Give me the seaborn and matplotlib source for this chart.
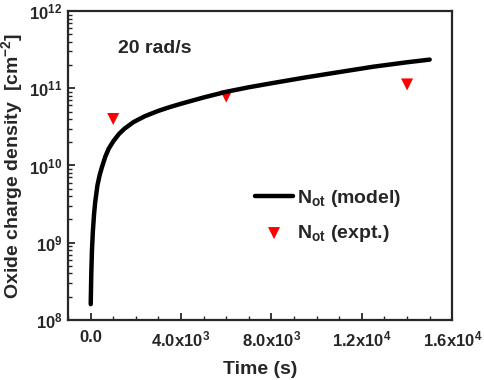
import numpy as np
import pandas as pd
import seaborn as sns
import matplotlib
matplotlib.use("Agg")
import matplotlib.pyplot as plt
from matplotlib.ticker import FixedLocator, FixedFormatter, MultipleLocator, LogLocator

# model curve
t_model = [5, 30, 60, 100, 150, 200, 300, 400, 500, 650, 800, 1000, 1250, 1500,
           1900, 2400, 3000, 3500, 4000, 5000, 6000, 7000, 8000, 9500, 11000,
           12500, 14000, 15000]
n_model = [1.6e8, 4e8, 8e8, 1.4e9, 2.3e9, 3.3e9, 5.5e9, 7.5e9, 9.5e9, 1.3e10,
           1.65e10, 2.05e10, 2.55e10, 3.0e10, 3.65e10, 4.35e10, 5.1e10, 5.7e10,
           6.3e10, 7.6e10, 9e10, 1.03e11, 1.16e11, 1.38e11, 1.62e11, 1.9e11,
           2.17e11, 2.35e11]

# experimental points
t_expt = [1000, 6000, 14000]
n_expt = [4e10, 7.8e10, 1.12e11]

x_ticks = [0, 4000, 8000, 12000, 16000]
x_labels = ["0.0", "4.0x10$^{3}$", "8.0x10$^{3}$", "1.2x10$^{4}$", "1.6x10$^{4}$"]
y_ticks = [1e8, 1e9, 1e10, 1e11, 1e12]
y_labels = ["10$^{8}$", "10$^{9}$", "10$^{10}$", "10$^{11}$", "10$^{12}$"]

sns.set_style("ticks")
plt.rcParams["font.family"] = ["Liberation Sans", "DejaVu Sans"]
plt.rcParams["font.weight"] = "bold"
plt.rcParams["mathtext.fontset"] = "custom"
plt.rcParams["mathtext.rm"] = "Liberation Sans:bold"
plt.rcParams["mathtext.bf"] = "Liberation Sans:bold"
plt.rcParams["mathtext.it"] = "Liberation Sans:bold"
plt.rcParams["mathtext.default"] = "rm"

model = pd.DataFrame({"t": t_model, "n": n_model})
expt = pd.DataFrame({"t": t_expt, "n": n_expt})

fig = plt.figure(figsize=(4.84, 3.80), dpi=100)
ax = fig.add_axes([0.1405, 0.158, 0.794, 0.813])

sns.lineplot(data=model, x="t", y="n", ax=ax, color="black", linewidth=3.2,
             label="N$_{ot}$ (model)")
sns.scatterplot(data=expt, x="t", y="n", ax=ax, color="red", marker="v", s=75,
                edgecolor="none", label="N$_{ot}$ (expt.)")

ax.set_yscale("log")
ax.set_xlim(-1000, 16000)
ax.set_ylim(1e8, 1e12)

ax.xaxis.set_major_locator(FixedLocator(x_ticks))
ax.xaxis.set_major_formatter(FixedFormatter(x_labels))
ax.xaxis.set_minor_locator(MultipleLocator(1000))
ax.yaxis.set_major_locator(FixedLocator(y_ticks))
ax.yaxis.set_major_formatter(FixedFormatter(y_labels))
ax.yaxis.set_minor_locator(LogLocator(base=10, subs=np.arange(2, 10), numticks=20))

ax.tick_params(which="major", direction="in", length=5, width=1.3, labelsize=12, pad=7)
ax.tick_params(which="minor", direction="in", length=3, width=1.0)
ax.tick_params(axis="y", pad=4)
for s in ax.spines.values():
    s.set_linewidth(1.6)

ax.set_xlabel("Time (s)", fontsize=14, fontweight="bold", labelpad=8)
ax.set_ylabel("Oxide charge density  [cm$^{-2}$]", fontsize=14, fontweight="bold", labelpad=3)

ax.text(0.13, 0.865, "20 rad/s", transform=ax.transAxes, fontsize=14, fontweight="bold")

leg = ax.legend(loc="upper left", bbox_to_anchor=(0.44, 0.485), frameon=False,
                fontsize=14, handlelength=2.0, handletextpad=0.2, labelspacing=0.75)

fig.savefig("out.png", dpi=100)
